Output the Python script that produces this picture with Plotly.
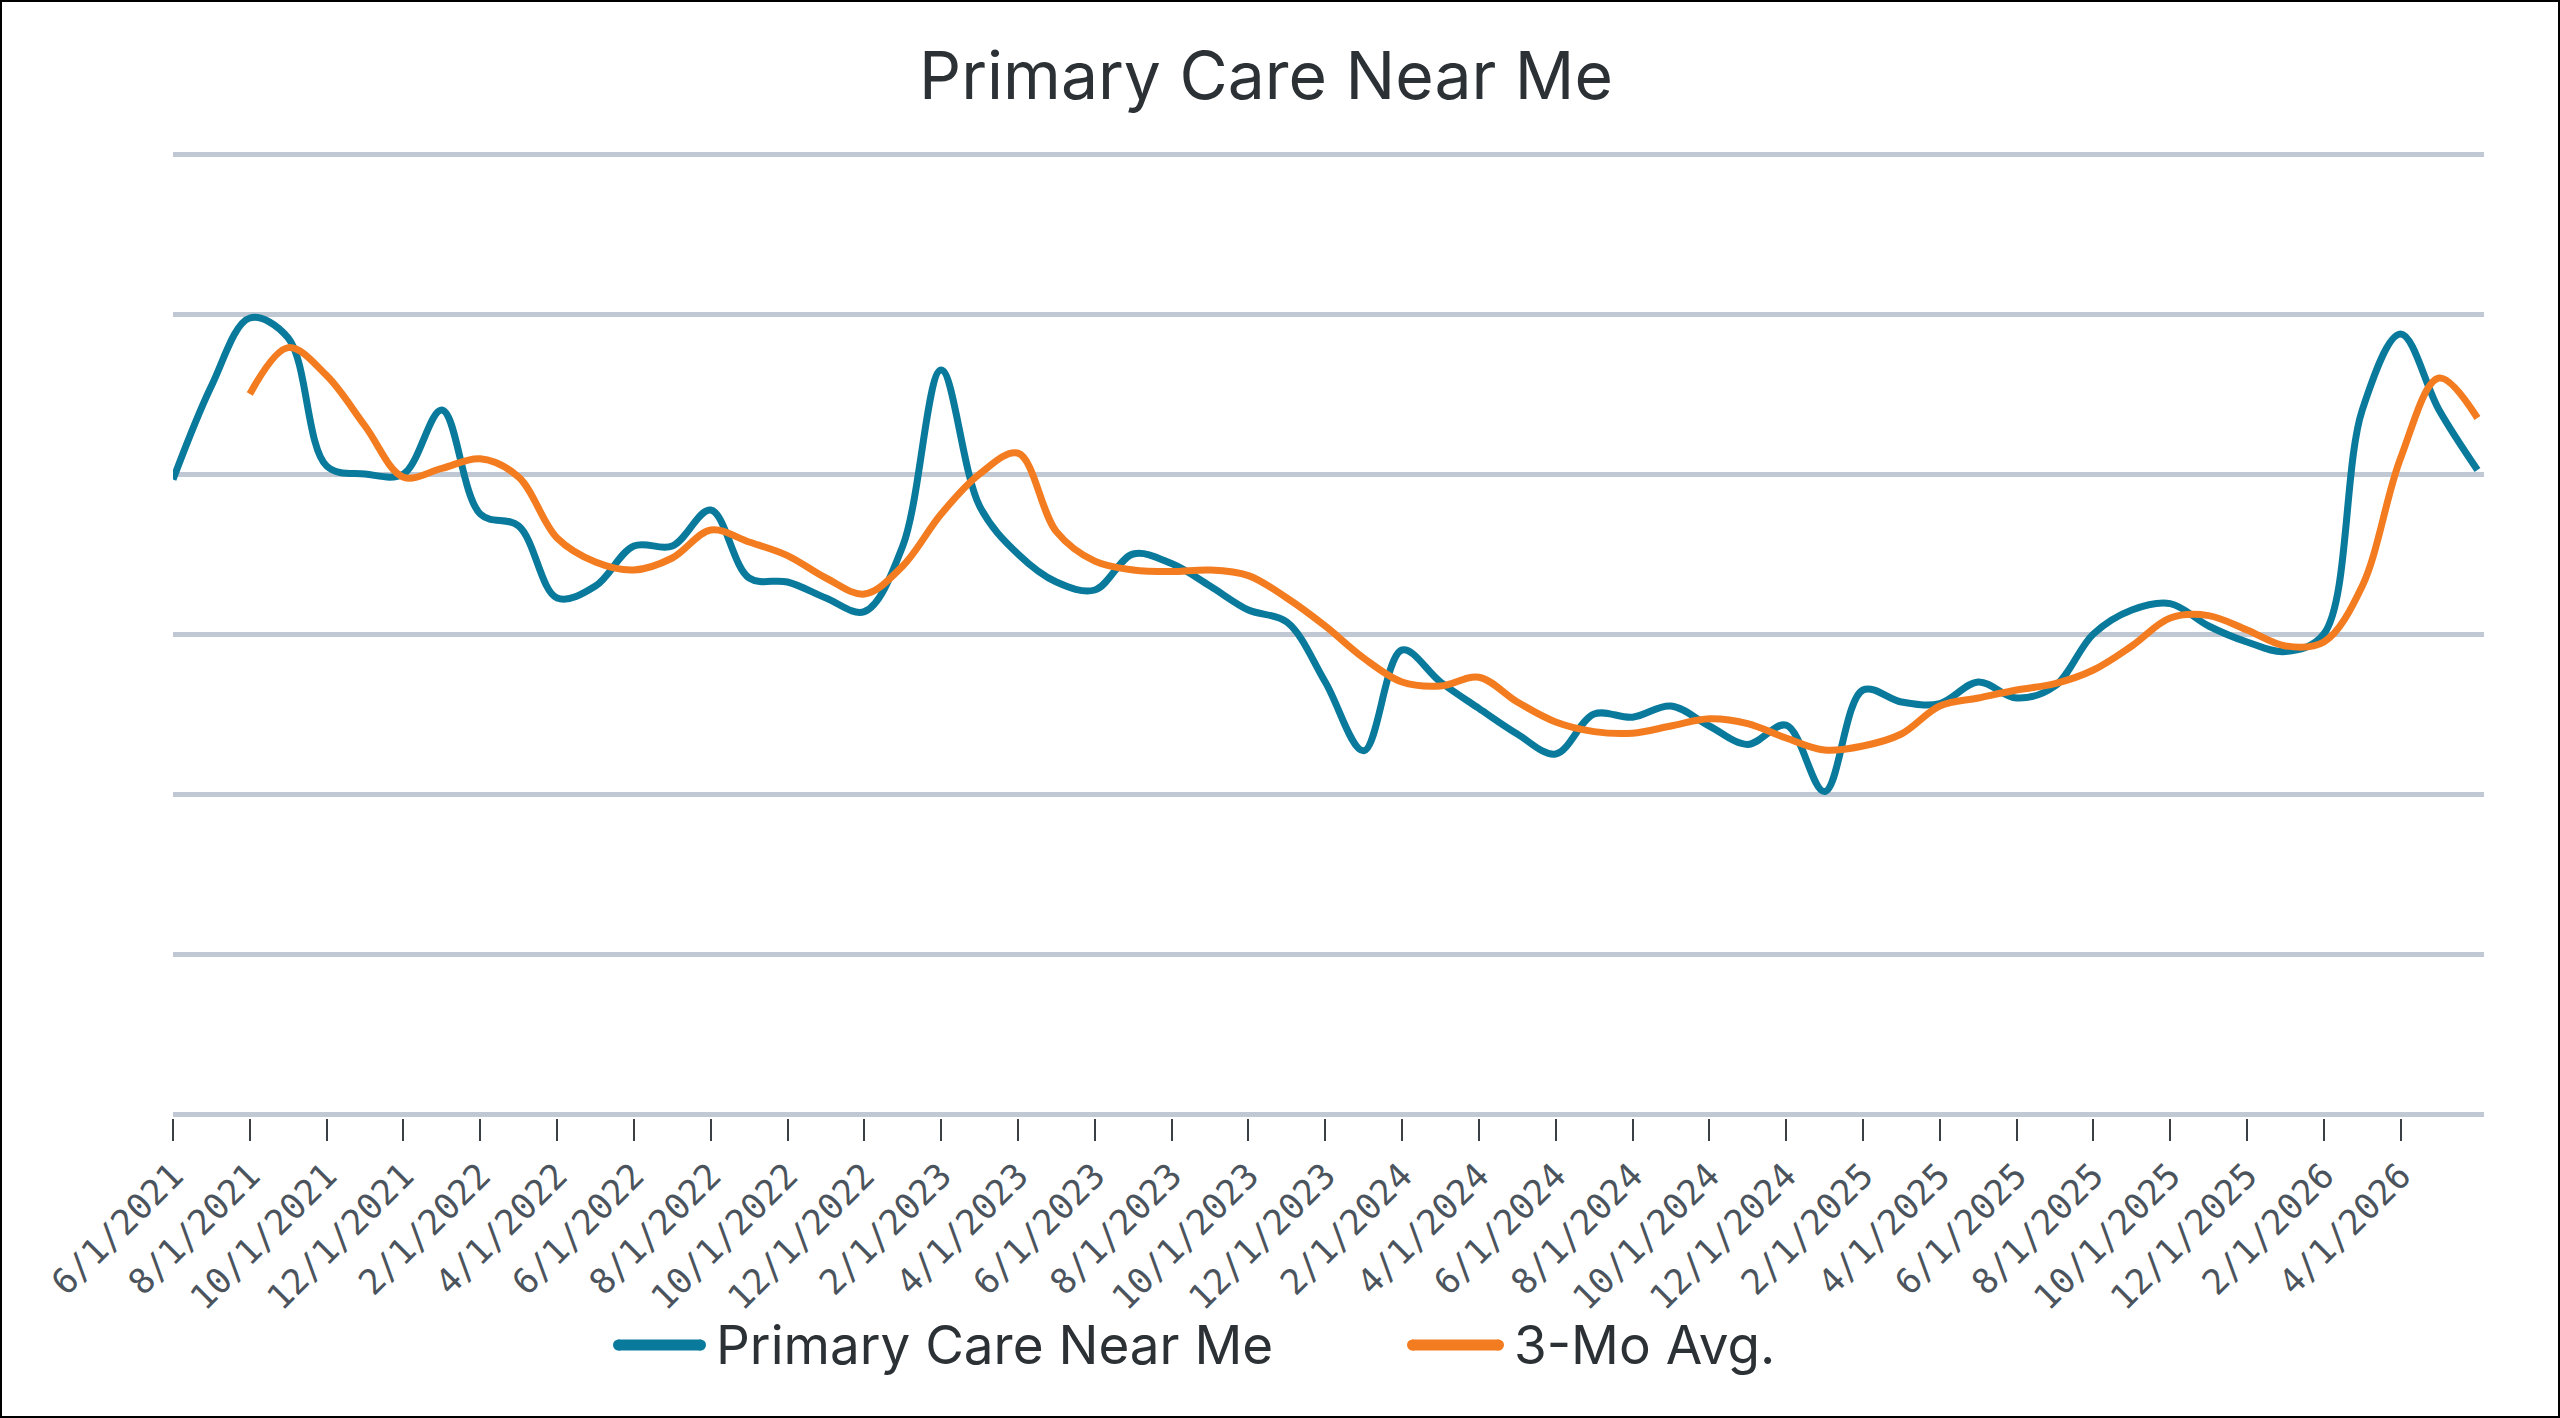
import plotly.graph_objects as go

# ---------------- data ----------------
months = [
    "6/1/2021", "7/1/2021", "8/1/2021", "9/1/2021", "10/1/2021", "11/1/2021", "12/1/2021",
    "1/1/2022", "2/1/2022", "3/1/2022", "4/1/2022", "5/1/2022", "6/1/2022", "7/1/2022",
    "8/1/2022", "9/1/2022", "10/1/2022", "11/1/2022", "12/1/2022",
    "1/1/2023", "2/1/2023", "3/1/2023", "4/1/2023", "5/1/2023", "6/1/2023", "7/1/2023",
    "8/1/2023", "9/1/2023", "10/1/2023", "11/1/2023", "12/1/2023",
    "1/1/2024", "2/1/2024", "3/1/2024", "4/1/2024", "5/1/2024", "6/1/2024", "7/1/2024",
    "8/1/2024", "9/1/2024", "10/1/2024", "11/1/2024", "12/1/2024",
    "1/1/2025", "2/1/2025", "3/1/2025", "4/1/2025", "5/1/2025", "6/1/2025", "7/1/2025",
    "8/1/2025", "9/1/2025", "10/1/2025", "11/1/2025", "12/1/2025",
    "1/1/2026", "2/1/2026", "3/1/2026", "4/1/2026", "5/1/2026", "6/1/2026",
]

primary_care = [
    79.3, 91.0, 99.5, 97.0, 81.0, 80.0, 80.0,
    88.0, 75.0, 73.5, 64.5, 66.0, 71.0, 71.0,
    75.5, 67.0, 66.5, 64.5, 62.8,
    71.0, 93.0, 76.0, 70.0, 66.5, 65.5, 70.0,
    68.8, 66.0, 63.0, 61.5, 54.0,
    45.4, 58.0, 54.0, 50.7, 47.5, 45.0, 50.0,
    49.6, 51.0, 48.5, 46.2, 48.6,
    40.3, 53.0, 51.5, 51.3, 54.0, 52.0, 53.5,
    60.0, 63.0, 63.8, 61.0, 59.0,
    57.8, 60.0, 88.0, 97.5, 88.0, 80.5,
]

three_mo_avg = [
    None, None, 90.0, 95.8, 92.3, 86.0, 79.6,
    80.7, 81.9, 79.6, 72.0, 69.0, 68.0, 69.5,
    73.0, 71.5, 69.8, 67.0, 65.0,
    68.5, 75.0, 80.0, 82.6, 72.8, 69.1, 68.0,
    67.8, 68.0, 67.3, 64.5, 61.0,
    57.0, 54.0, 53.5, 54.6, 51.5, 49.0, 47.8,
    47.6, 48.5, 49.4, 48.8, 47.0,
    45.5, 46.0, 47.5, 51.0, 52.0, 53.0, 53.8,
    55.5, 58.5, 62.0, 62.3, 60.5,
    58.5, 59.0, 66.0, 82.0, 92.0, 87.0,
]

series_names = ["Primary Care Near Me", "3-Mo Avg."]
series_colors = ["#0a7a9c", "#f47c20"]
tick_labels = months[::2][:-1]   # every second month, 6/1/2021 ... 4/1/2026

# ---------------- layout constants ----------------
W, H = 2560, 1418
Y_LO, Y_HI = -0.5, 120.5          # small pad so the 0 and 120 grid lines are drawn
ML, MR = 173, 76
MT, MB = 150, 300
PW, PH = W - ML - MR, H - MT - MB

GRID = "#c0c9d3"
TEXT = "#2c3136"
TICKTEXT = "#4b545d"


def px_to_paper_x(px):
    return (px - ML) / PW


def px_to_paper_y(py):
    return (H - MB - py) / PH


fig = go.Figure()
for name, vals, col in zip(series_names, [primary_care, three_mo_avg], series_colors):
    fig.add_trace(go.Scatter(
        x=months, y=vals, name=name, mode="lines", showlegend=False,
        line=dict(color=col, width=7, shape="spline", smoothing=1.0),
    ))

# outer border of the chart area
fig.add_shape(
    type="rect", xref="paper", yref="paper",
    x0=px_to_paper_x(1), x1=px_to_paper_x(W - 1),
    y0=px_to_paper_y(H - 1), y1=px_to_paper_y(1),
    line=dict(color="#000000", width=2), fillcolor="rgba(0,0,0,0)", layer="below",
)

# legend (drawn so its thick line keys match the original)
legend_items = [
    # key start px, key end px, text start px
    (613, 706, 714),
    (1407, 1504, 1512),
]
LEG_Y = 1345
for (k0, k1, tx), name, col in zip(legend_items, series_names, series_colors):
    fig.add_shape(
        type="line", xref="paper", yref="paper",
        x0=px_to_paper_x(k0 + 5), x1=px_to_paper_x(k1 - 5),
        y0=px_to_paper_y(LEG_Y), y1=px_to_paper_y(LEG_Y),
        line=dict(color=col, width=11),
    )
    fig.add_shape(
        type="circle", xref="paper", yref="paper",
        x0=px_to_paper_x(k0), x1=px_to_paper_x(k0 + 11),
        y0=px_to_paper_y(LEG_Y + 5.5), y1=px_to_paper_y(LEG_Y - 5.5),
        line=dict(width=0), fillcolor=col,
    )
    fig.add_shape(
        type="circle", xref="paper", yref="paper",
        x0=px_to_paper_x(k1 - 11), x1=px_to_paper_x(k1),
        y0=px_to_paper_y(LEG_Y + 5.5), y1=px_to_paper_y(LEG_Y - 5.5),
        line=dict(width=0), fillcolor=col,
    )
    fig.add_annotation(
        text=name, xref="paper", yref="paper",
        x=px_to_paper_x(tx), y=px_to_paper_y(LEG_Y),
        xanchor="left", yanchor="middle", showarrow=False,
        font=dict(family="Inter, Lato, sans-serif", size=53, color=TEXT),
    )

fig.update_layout(
    width=W, height=H,
    margin=dict(l=ML, r=MR, t=MT, b=MB, pad=0),
    paper_bgcolor="white", plot_bgcolor="white",
    title=dict(
        text="Primary Care Near Me",
        font=dict(family="Inter, Lato, sans-serif", size=66, color=TEXT),
        x=1266 / W, xanchor="center", xref="container",
        y=1 - 76 / H, yanchor="middle", yref="container",
    ),
    showlegend=False,
    xaxis=dict(
        type="category",
        categoryorder="array", categoryarray=months,
        range=[0, 60.17],
        tickmode="array", tickvals=tick_labels, ticktext=tick_labels,
        tickangle=-45,
        ticks="outside", ticklen=22, tickwidth=2, tickcolor="#3a3f44",
        tickfont=dict(family="DejaVu Sans Mono, monospace", size=35, color=TICKTEXT),
        showgrid=False, zeroline=False, showline=False,
    ),
    yaxis=dict(
        range=[Y_LO, Y_HI], dtick=20, tick0=0,
        showticklabels=False, ticks="",
        showgrid=True, gridcolor=GRID, gridwidth=5,
        zeroline=False, showline=False,
    ),
)

fig.write_html("out.html")
